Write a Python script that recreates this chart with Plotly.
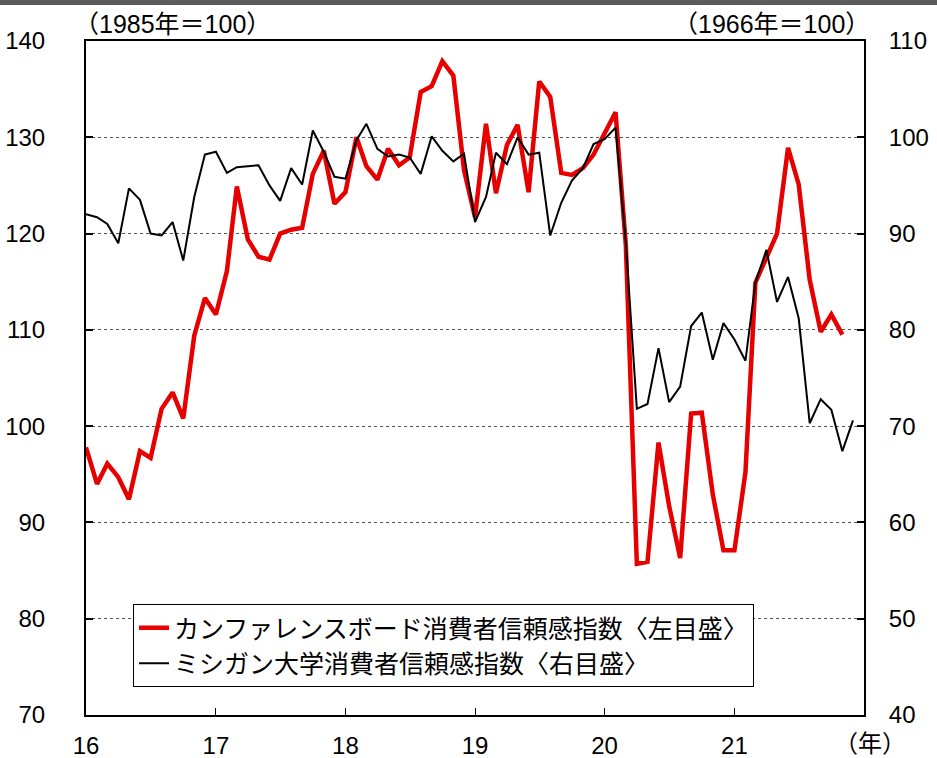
import plotly.graph_objects as go
import pandas as pd

# Monthly data, Jan 2016 onwards
months = list(pd.date_range("2016-01-01", "2021-12-01", freq="MS"))

conference_board = [
    97.8, 94.0, 96.1, 94.7, 92.4, 97.4, 96.7, 101.8, 103.5, 100.8, 109.4, 113.3,
    111.6, 116.1, 124.9, 119.4, 117.6, 117.3, 120.0, 120.4, 120.6, 126.2, 128.6, 123.1,
    124.3, 130.0, 127.0, 125.6, 128.8, 127.1, 127.9, 134.7, 135.3, 137.9, 136.4, 126.6,
    121.7, 131.4, 124.2, 129.2, 131.3, 124.3, 135.8, 134.2, 126.3, 126.1, 126.8, 128.2,
    130.4, 132.6, 118.8, 85.7, 85.9, 98.3, 91.7, 86.3, 101.3, 101.4, 92.9, 87.1,
    87.1, 95.2, 114.9, 117.5, 120.0, 128.9, 125.1, 115.2, 109.8, 111.6, 109.5,
]

michigan = [
    92.0, 91.7, 91.0, 89.0, 94.7, 93.5, 90.0, 89.8, 91.2, 87.2, 93.8, 98.2,
    98.5, 96.3, 96.9, 97.0, 97.1, 95.0, 93.4, 96.8, 95.1, 100.7, 98.5, 95.9,
    95.7, 99.7, 101.4, 98.8, 98.0, 98.2, 97.9, 96.2, 100.1, 98.6, 97.5, 98.3,
    91.2, 93.8, 98.4, 97.2, 100.0, 98.2, 98.4, 89.8, 93.2, 95.5, 96.8, 99.3,
    99.8, 101.0, 89.1, 71.8, 72.3, 78.1, 72.5, 74.1, 80.4, 81.8, 76.9, 80.7,
    79.0, 76.8, 84.9, 88.3, 82.9, 85.5, 81.2, 70.3, 72.8, 71.7, 67.4, 70.6,
]

year_ticks = ["2016-01-01", "2017-01-01", "2018-01-01", "2019-01-01", "2020-01-01", "2021-01-01"]
year_labels = ["16", "17", "18", "19", "20", "21"]

name_cb = "カンファレンスボード消費者信頼感指数〈左目盛〉"
name_mi = "ミシガン大学消費者信頼感指数〈右目盛〉"

FONT = "Liberation Sans, Arial, Noto Sans CJK JP, sans-serif"
CJK = "Noto Sans CJK JP, sans-serif"

fig = go.Figure()
fig.add_trace(go.Scatter(
    x=months[:len(conference_board)], y=conference_board, name=name_cb,
    mode="lines", line=dict(color="#e60000", width=4.5), yaxis="y",
))
fig.add_trace(go.Scatter(
    x=months[:len(michigan)], y=michigan, name=name_mi,
    mode="lines", line=dict(color="#000000", width=2), yaxis="y2",
))

W, H = 937, 758
L, R, T, B = 86, 73, 41, 43
pw, ph = W - L - R, H - T - B

fig.update_layout(
    width=W, height=H,
    margin=dict(l=L, r=R, t=T, b=B, autoexpand=False),
    paper_bgcolor="white", plot_bgcolor="white",
    font=dict(family=FONT, size=24, color="black"),
    showlegend=True,
    legend=dict(
        x=(133 - L) / pw, y=(H - B - 604) / ph, xanchor="left", yanchor="top",
        bgcolor="white", bordercolor="black", borderwidth=1,
        font=dict(family=CJK, size=25, color="black"),
        tracegroupgap=0,
    ),
    xaxis=dict(
        type="date", range=["2016-01-01", "2022-01-01"],
        tickvals=year_ticks, ticktext=year_labels,
        ticks="inside", ticklen=7, tickcolor="black", tickwidth=1,
        showline=True, linecolor="black", linewidth=2, mirror=True,
        showgrid=False, zeroline=False, automargin=False,
        ticklabelstandoff=8,
        tickfont=dict(family=FONT, size=24),
    ),
    yaxis=dict(
        range=[70, 140], dtick=10, tick0=70,
        ticks="inside", ticklen=7, tickcolor="black", tickwidth=2,
        showline=True, linecolor="black", linewidth=2,
        showgrid=True, gridcolor="#555555", griddash="dot", gridwidth=1,
        zeroline=False, automargin=False, ticklabelstandoff=34,
        tickfont=dict(family=FONT, size=24),
    ),
    yaxis2=dict(
        range=[40, 110], dtick=10, tick0=40,
        overlaying="y", side="right",
        ticks="inside", ticklen=7, tickcolor="black", tickwidth=2,
        showline=True, linecolor="black", linewidth=2,
        showgrid=False, zeroline=False, automargin=False, ticklabelstandoff=18,
        tickfont=dict(family=FONT, size=24),
    ),
    shapes=[
        dict(type="rect", xref="paper", yref="paper",
             x0=-L / pw, x1=(pw + R) / pw,
             y0=1 + (T - 5) / ph, y1=1 + T / ph,
             fillcolor="#5b5b5b", line=dict(width=0), layer="above"),
    ],
    annotations=[
        dict(text="（1985年＝100）", xref="paper", yref="paper",
             x=(72 - L) / pw, y=1 + (T - 24) / ph, xanchor="left", yanchor="middle",
             showarrow=False, font=dict(family=FONT, size=25)),
        dict(text="（1966年＝100）", xref="paper", yref="paper",
             x=(872 - L) / pw, y=1 + (T - 24) / ph, xanchor="right", yanchor="middle",
             showarrow=False, font=dict(family=FONT, size=25)),
        dict(text="（年）", xref="paper", yref="paper",
             x=(908 - L) / pw, y=-(743 - (H - B)) / ph, xanchor="right", yanchor="middle",
             showarrow=False, font=dict(family=FONT, size=24)),
    ],
)

fig.write_html(
    "out.html",
    config={"displayModeBar": False},
    post_script="document.body.style.margin='0';document.body.style.overflow='hidden';",
)
